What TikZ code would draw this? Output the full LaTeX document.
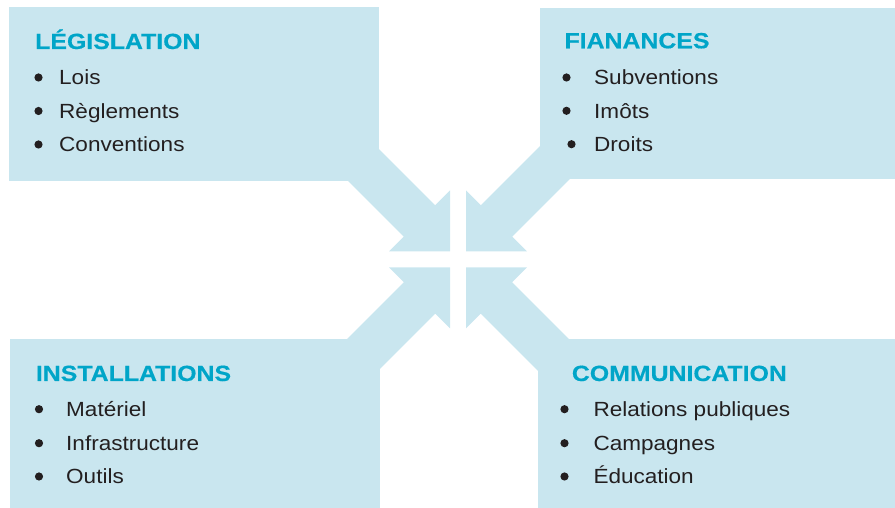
\documentclass[tikz,border=0pt]{standalone}
\usepackage{fontspec}
\setmainfont{Liberation Sans}[FakeStretch=1.1]
\newfontfamily\headfont{Liberation Sans Bold}[FakeStretch=1.13,FakeBold=0.4]
\definecolor{panelblue}{HTML}{C9E6EF}
\definecolor{headblue}{HTML}{00A5C8}
\definecolor{ink}{HTML}{231F20}

\begin{document}
\begin{tikzpicture}[x=1pt,y=1pt,
        panel/.style={fill=panelblue,draw=none},
        title/.style={anchor=base west,inner sep=0pt,text=headblue,
        font=\headfont\fontsize{22}{26}\selectfont},
        item/.style={anchor=base west,inner sep=0pt,text=ink,
        font=\fontsize{20.5}{24}\selectfont},
        dot/.style={circle,fill=ink,inner sep=0pt,minimum size=8.2pt}]
        \useasboundingbox (0,0) rectangle (895,508);
        \coordinate (hub) at (458,248.5);

        \fill[panel] (9,327) rectangle (379,501);
        \fill[panel] (540,329) rectangle (895,499.5);
        \fill[panel] (10,0) rectangle (380,168.5);
        \fill[panel] (538,0) rectangle (895,168.5);

        \foreach \r in {0,-90,180,90}{
            \fill[panel,shift={(hub)},rotate=\r] (-8,8) -- (-8,69) -- (-22.77,54.23)
            -- (-122.77,154.23) -- (-154.23,122.77) -- (-54.23,22.77) -- (-69,8) -- cycle;
        }

        \node[title] (legis) at (35,459) {LÉGISLATION};
        \foreach \i/\y/\txt in {1/423/Lois, 2/389.5/Règlements, 3/356/Conventions}{
            \node[dot] (legis-dot-\i) at (38.5,\y+7.5) {};
            \node[item] (legis-\i) at (59,\y) {\txt};
        }

        \node[title] (fin) at (564.3,459.7) {FIANANCES};
        \foreach \i/\bx/\y/\txt in {1/566.5/423/Subventions, 2/566.5/389.7/Imôts, 3/571.5/356.3/Droits}{
            \node[dot] (fin-dot-\i) at (\bx,\y+7.5) {};
            \node[item] (fin-\i) at (594,\y) {\txt};
        }

        \node[title] (inst) at (35.7,127) {INSTALLATIONS};
        \foreach \i/\y/\txt in {1/91.3/Matériel, 2/57.3/Infrastructure, 3/24/Outils}{
            \node[dot] (inst-dot-\i) at (39,\y+7.5) {};
            \node[item] (inst-\i) at (66,\y) {\txt};
        }

        \node[title] (comm) at (571.7,127) {COMMUNICATION};
        \foreach \i/\y/\txt in {1/91.3/Relations publiques, 2/57.3/Campagnes, 3/24/Éducation}{
            \node[dot] (comm-dot-\i) at (564.5,\y+7.5) {};
            \node[item] (comm-\i) at (593.3,\y) {\txt};
        }
    \end{tikzpicture}
\end{document}
